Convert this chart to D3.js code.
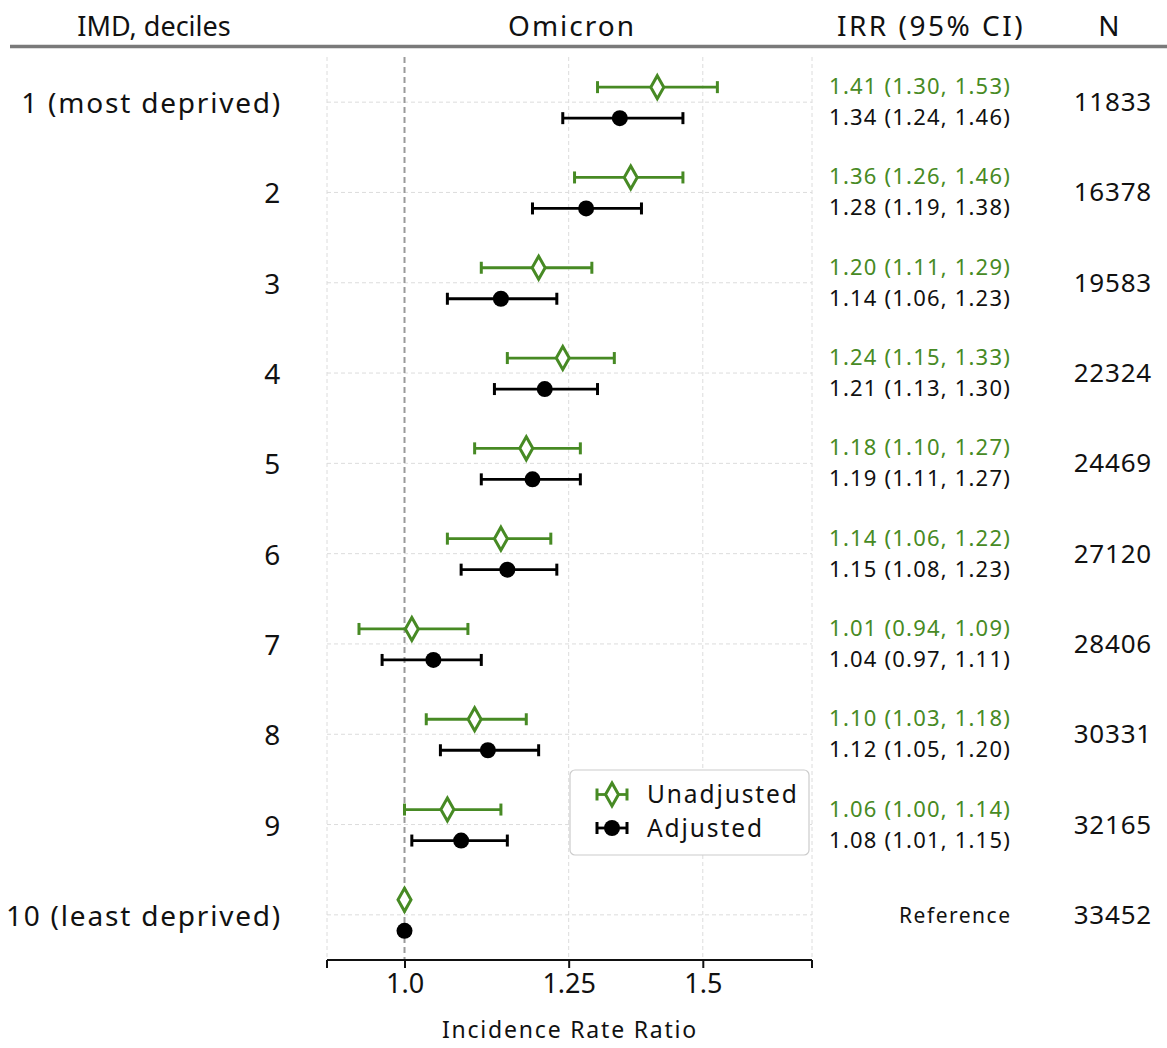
<!DOCTYPE html>
<html>
<head>
<meta charset="utf-8">
<script src="https://cdn.jsdelivr.net/npm/d3@7"></script>
<style>
  body { margin: 0; background: #fff; }
  text { font-family: "Noto Sans", sans-serif; fill: #111; }
</style>
</head>
<body>
<script>
// IMD deciles, top to bottom
var deciles = ["1 (most deprived)", "2", "3", "4", "5", "6", "7", "8", "9", "10 (least deprived)"];

// unadjusted incidence rate ratios (last row is the reference)
var unadjEst = [1.41, 1.36, 1.20, 1.24, 1.18, 1.14, 1.01, 1.10, 1.06, 1.00];
var unadjLow = [1.30, 1.26, 1.11, 1.15, 1.10, 1.06, 0.94, 1.03, 1.00, null];
var unadjHigh = [1.53, 1.46, 1.29, 1.33, 1.27, 1.22, 1.09, 1.18, 1.14, null];

// adjusted incidence rate ratios
var adjEst = [1.34, 1.28, 1.14, 1.21, 1.19, 1.15, 1.04, 1.12, 1.08, 1.00];
var adjLow = [1.24, 1.19, 1.06, 1.13, 1.11, 1.08, 0.97, 1.05, 1.01, null];
var adjHigh = [1.46, 1.38, 1.23, 1.30, 1.27, 1.23, 1.11, 1.20, 1.15, null];

var counts = [11833, 16378, 19583, 22324, 24469, 27120, 28406, 30331, 32165, 33452];

var xTicks = [1.0, 1.25, 1.5];
var xTickLabels = ["1.0", "1.25", "1.5"];
var xDomain = [0.9, 1.74];

var green = "#478a24";

var width = 1167, height = 1048;

var svg = d3.select("body").append("svg")
    .attr("width", width)
    .attr("height", height);

// scales (log x, rows evenly spaced)
var x = d3.scaleLog().domain(xDomain).range([327, 812]);
var y = d3.scaleLinear().domain([0.5, deciles.length + 0.5]).range([57, 960]);
var rowY = function(i) { return y(i + 1); };

// headers
var header = svg.append("g");
header.append("text").attr("x", 154).attr("y", 36).attr("text-anchor", "middle")
    .attr("font-size", 27).text("IMD, deciles");
header.append("text").attr("x", 572).attr("y", 36).attr("text-anchor", "middle")
    .attr("font-size", 28).attr("letter-spacing", 2).text("Omicron");
header.append("text").attr("x", 931).attr("y", 36).attr("text-anchor", "middle")
    .attr("font-size", 28).attr("letter-spacing", 2.5).text("IRR (95% CI)");
header.append("text").attr("x", 1109).attr("y", 36).attr("text-anchor", "middle")
    .attr("font-size", 28).text("N");

svg.append("line")
    .attr("x1", 10).attr("x2", width)
    .attr("y1", 46.5).attr("y2", 46.5)
    .attr("stroke", "#7a7a7a").attr("stroke-width", 3.5);

// grid
var grid = svg.append("g")
    .attr("stroke", "#dcdcdc")
    .attr("stroke-width", 1)
    .attr("stroke-dasharray", "4,3");

grid.selectAll(".hgrid")
  .data(deciles)
  .enter().append("line")
    .attr("x1", x.range()[0]).attr("x2", x.range()[1])
    .attr("y1", function(d, i) { return rowY(i); })
    .attr("y2", function(d, i) { return rowY(i); });

grid.selectAll(".vgrid")
  .data([xDomain[0]].concat(xTicks.slice(1), [xDomain[1]]))
  .enter().append("line")
    .attr("x1", function(d) { return x(d); }).attr("x2", function(d) { return x(d); })
    .attr("y1", y.range()[0]).attr("y2", y.range()[1]);

// reference line at 1
svg.append("line")
    .attr("x1", x(1)).attr("x2", x(1))
    .attr("y1", y.range()[0]).attr("y2", y.range()[1])
    .attr("stroke", "#9a9a9a")
    .attr("stroke-width", 2)
    .attr("stroke-dasharray", "6,4");

// x axis
var xAxis = d3.axisBottom(x)
    .tickValues(xTicks)
    .tickFormat(function(d, i) { return xTickLabels[i]; })
    .tickSize(8)
    .tickPadding(6);

var axisG = svg.append("g")
    .attr("transform", "translate(0," + y.range()[1] + ")")
    .call(xAxis);
axisG.select(".domain").remove();
axisG.append("line")
    .attr("x1", x.range()[0]).attr("x2", x.range()[1])
    .attr("stroke", "#111").attr("stroke-width", 2);
axisG.selectAll(".edge")
  .data(x.range())
  .enter().append("line")
    .attr("x1", function(d) { return d; }).attr("x2", function(d) { return d; })
    .attr("y1", 0).attr("y2", 8)
    .attr("stroke", "#111").attr("stroke-width", 2);
axisG.selectAll(".tick line").attr("stroke", "#111").attr("stroke-width", 2);
axisG.selectAll(".tick text")
    .attr("font-size", 27)
    .attr("font-family", "Noto Sans")
    .attr("fill", "#111");

svg.append("text")
    .attr("x", 570).attr("y", 1038)
    .attr("text-anchor", "middle")
    .attr("font-size", 23)
    .attr("letter-spacing", 1.8)
    .text("Incidence Rate Ratio");

// row labels
svg.selectAll(".rowlabel")
  .data(deciles)
  .enter().append("text")
    .attr("x", 282)
    .attr("y", function(d, i) { return rowY(i) + 11; })
    .attr("text-anchor", "end")
    .attr("font-size", 28)
    .attr("letter-spacing", 1.8)
    .text(function(d) { return d; });

// error bars with end caps
function drawBars(est, low, high, dy, color) {
  var g = svg.append("g").attr("stroke", color).attr("stroke-width", 2.8);
  var rows = est.map(function(v, i) { return {i: i, est: v, low: low[i], high: high[i]}; })
    .filter(function(d) { return d.low != null; });
  g.selectAll(".bar").data(rows).enter().append("line")
    .attr("x1", function(d) { return x(d.low); })
    .attr("x2", function(d) { return x(d.high); })
    .attr("y1", function(d) { return rowY(d.i) + dy; })
    .attr("y2", function(d) { return rowY(d.i) + dy; });
  g.selectAll(".capl").data(rows).enter().append("line")
    .attr("x1", function(d) { return x(d.low); })
    .attr("x2", function(d) { return x(d.low); })
    .attr("y1", function(d) { return rowY(d.i) + dy - 6; })
    .attr("y2", function(d) { return rowY(d.i) + dy + 6; })
    .attr("stroke-width", 3);
  g.selectAll(".caph").data(rows).enter().append("line")
    .attr("x1", function(d) { return x(d.high); })
    .attr("x2", function(d) { return x(d.high); })
    .attr("y1", function(d) { return rowY(d.i) + dy - 6; })
    .attr("y2", function(d) { return rowY(d.i) + dy + 6; })
    .attr("stroke-width", 3);
}

var diamondPath = "M0,-11.5 L6.5,0 L0,11.5 L-6.5,0 Z";

drawBars(unadjEst, unadjLow, unadjHigh, -15, green);
drawBars(adjEst, adjLow, adjHigh, 16, "#000");

svg.selectAll(".unadj")
  .data(unadjEst)
  .enter().append("path")
    .attr("d", diamondPath)
    .attr("transform", function(d, i) { return "translate(" + x(d) + "," + (rowY(i) - 15) + ")"; })
    .attr("fill", "#fff")
    .attr("stroke", green)
    .attr("stroke-width", 3);

svg.selectAll(".adj")
  .data(adjEst)
  .enter().append("circle")
    .attr("cx", function(d) { return x(d); })
    .attr("cy", function(d, i) { return rowY(i) + 16; })
    .attr("r", 8)
    .attr("fill", "#000");

// IRR text column
var fmt = d3.format(".2f");
deciles.forEach(function(d, i) {
  if (unadjLow[i] == null) {
    svg.append("text")
      .attr("x", 1011.5).attr("y", rowY(i) + 8)
      .attr("text-anchor", "end")
      .attr("font-size", 21)
      .attr("letter-spacing", 1.5)
      .text("Reference");
    return;
  }
  svg.append("text")
    .attr("x", 1011).attr("y", rowY(i) - 8)
    .attr("text-anchor", "end")
    .attr("font-size", 22)
    .attr("letter-spacing", 1.2)
    .style("fill", green)
    .text(fmt(unadjEst[i]) + " (" + fmt(unadjLow[i]) + ", " + fmt(unadjHigh[i]) + ")");
  svg.append("text")
    .attr("x", 1011).attr("y", rowY(i) + 23)
    .attr("text-anchor", "end")
    .attr("font-size", 22)
    .attr("letter-spacing", 1.2)
    .text(fmt(adjEst[i]) + " (" + fmt(adjLow[i]) + ", " + fmt(adjHigh[i]) + ")");
});

// N column
svg.selectAll(".count")
  .data(counts)
  .enter().append("text")
    .attr("x", 1152)
    .attr("y", function(d, i) { return rowY(i) + 9; })
    .attr("text-anchor", "end")
    .attr("font-size", 26)
    .attr("letter-spacing", 0.8)
    .text(function(d) { return d; });

// legend
var legend = svg.append("g").attr("transform", "translate(570,770)");
legend.append("rect")
    .attr("width", 239).attr("height", 85)
    .attr("rx", 5)
    .attr("fill", "#fff")
    .attr("stroke", "#cccccc")
    .attr("stroke-width", 1.2);

var legendItems = [
  {label: "Unadjusted", color: green, y: 24.5, shape: "diamond"},
  {label: "Adjusted", color: "#000", y: 58, shape: "circle"}
];
legendItems.forEach(function(item) {
  var lg = legend.append("g").attr("transform", "translate(42," + item.y + ")");
  lg.append("line").attr("x1", -15).attr("x2", 15).attr("stroke", item.color).attr("stroke-width", 2.8);
  lg.append("line").attr("x1", -15).attr("x2", -15).attr("y1", -6).attr("y2", 6).attr("stroke", item.color).attr("stroke-width", 3);
  lg.append("line").attr("x1", 15).attr("x2", 15).attr("y1", -6).attr("y2", 6).attr("stroke", item.color).attr("stroke-width", 3);
  if (item.shape == "diamond") {
    lg.append("path").attr("d", diamondPath).attr("fill", "#fff").attr("stroke", item.color).attr("stroke-width", 3);
  } else {
    lg.append("circle").attr("r", 8).attr("fill", item.color);
  }
  lg.append("text")
    .attr("x", 35).attr("y", 8.5)
    .attr("font-size", 24.5)
    .attr("letter-spacing", 1.9)
    .text(item.label);
});
</script>
</body>
</html>
